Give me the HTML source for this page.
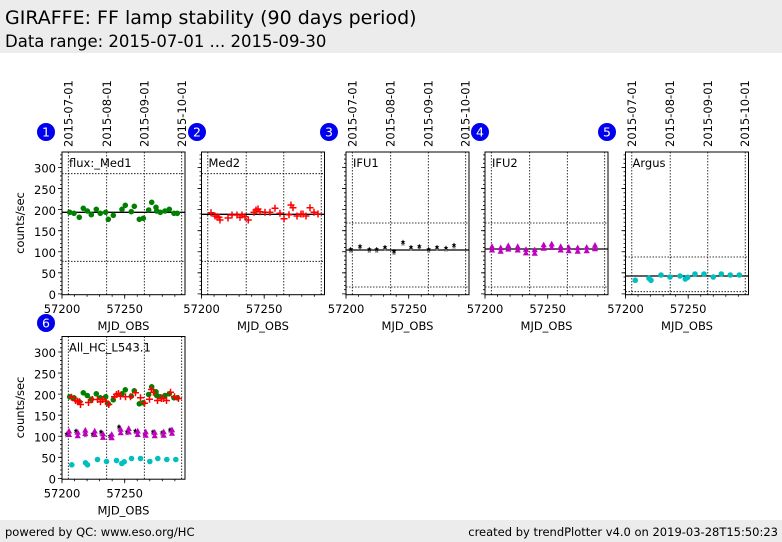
<!DOCTYPE html>
<html><head><meta charset="utf-8"><style>
body{margin:0;background:#fff;}
svg{display:block;font-family:"DejaVu Sans","Liberation Sans",sans-serif;}
</style></head><body>
<svg width="782" height="542" viewBox="0 0 782 542" xmlns="http://www.w3.org/2000/svg">
<defs>
<g id="frame">
<rect x="0" y="0" width="123" height="142.7" fill="none" stroke="#000" stroke-width="1"/>
<g stroke="#000" stroke-width="0.8" stroke-dasharray="1.5 1.5">
<line x1="6.3" y1="0" x2="6.3" y2="142.7"/><line x1="44.7" y1="0" x2="44.7" y2="142.7"/>
<line x1="82.3" y1="0" x2="82.3" y2="142.7"/><line x1="119.7" y1="0" x2="119.7" y2="142.7"/>
</g>
<line x1="-1" y1="142.3" x2="-1" y2="0" stroke="#000" stroke-width="2" stroke-dasharray="0.8 3.413"/>
<line x1="-2" y1="142.3" x2="-2" y2="0" stroke="#000" stroke-width="4" stroke-dasharray="0.8 20.265"/>
<line x1="-0.4" y1="143.7" x2="123" y2="143.7" stroke="#000" stroke-width="2" stroke-dasharray="0.8 11.74"/>
<line x1="-0.4" y1="144.7" x2="123" y2="144.7" stroke="#000" stroke-width="4" stroke-dasharray="0.8 61.9"/>
</g>
<path id="st" d="M0 -2.3L0.8 -0.6L2.4 -0.6L1.1 0.6L1.7 2.3L0 1.3L-1.7 2.3L-1.1 0.6L-2.4 -0.6L-0.8 -0.6Z"/>
<path id="tr" d="M0 -3.1L3.1 2.6L-3.1 2.6Z" fill="#bf00bf"/>
<g id="med1" fill="#008000">
<circle cx="69.7" cy="212.3" r="2.8"/><circle cx="74" cy="213.3" r="2.8"/><circle cx="79.3" cy="217.3" r="2.8"/><circle cx="83.3" cy="208.3" r="2.8"/><circle cx="87.3" cy="211" r="2.8"/><circle cx="91.3" cy="214.7" r="2.8"/><circle cx="96.3" cy="209.3" r="2.8"/><circle cx="100.3" cy="213.3" r="2.8"/><circle cx="105.7" cy="212.3" r="2.8"/><circle cx="108.3" cy="219.3" r="2.8"/><circle cx="113.3" cy="215.3" r="2.8"/><circle cx="122" cy="209.3" r="2.8"/><circle cx="125.3" cy="205.3" r="2.8"/><circle cx="131.3" cy="211.7" r="2.8"/><circle cx="134.3" cy="206.3" r="2.8"/><circle cx="139.3" cy="219.3" r="2.8"/><circle cx="143.3" cy="218.3" r="2.8"/><circle cx="148.7" cy="210" r="2.8"/><circle cx="151.7" cy="202.3" r="2.8"/><circle cx="156" cy="207.3" r="2.8"/><circle cx="156.7" cy="211" r="2.8"/><circle cx="160.3" cy="212.3" r="2.8"/><circle cx="165" cy="211" r="2.8"/><circle cx="169.3" cy="209.3" r="2.8"/><circle cx="174" cy="213.3" r="2.8"/><circle cx="177.3" cy="213.3" r="2.8"/>
</g>
<path id="med2" fill="none" stroke="#ff0000" stroke-width="1.5" d="M207.5 212.7h7M211 209.2v7 M211.5 216h7M215 212.5v7 M213.5 216.7h7M217 213.2v7 M215.5 217.3h7M219 213.8v7 M216.5 220h7M220 216.5v7 M224.5 218h7M228 214.5v7 M228.5 215h7M232 211.5v7 M233.5 215h7M237 211.5v7 M236.5 217.3h7M240 213.8v7 M238.5 215h7M242 211.5v7 M241.5 216.7h7M245 213.2v7 M244.8 220h7M248.3 216.5v7 M250.5 212.3h7M254 208.8v7 M252.5 210h7M256 206.5v7 M254.5 209h7M258 205.5v7 M256.5 211.7h7M260 208.2v7 M261.5 212.3h7M265 208.8v7 M266.5 212.3h7M270 208.8v7 M271.5 208.3h7M275 204.8v7 M276.5 213.3h7M280 209.8v7 M280.5 218.7h7M284 215.2v7 M285.5 214.7h7M289 211.2v7 M287.5 205h7M291 201.5v7 M289.5 207.7h7M293 204.2v7 M293.5 216h7M297 212.5v7 M297.5 214h7M301 210.5v7 M299.5 214h7M303 210.5v7 M302.5 216h7M306 212.5v7 M306.5 207.7h7M310 204.2v7 M310.5 212.3h7M314 208.8v7 M314.5 214h7M318 210.5v7"/>
<g id="ifu1">
<g fill="#777" transform="translate(0,-2.5)">
<use href="#st" x="350.7" y="253.5"/><use href="#st" x="360" y="250.5"/><use href="#st" x="369.3" y="253.5"/><use href="#st" x="376.7" y="253.5"/><use href="#st" x="385" y="251.4"/><use href="#st" x="394" y="255.6"/><use href="#st" x="403" y="246.3"/><use href="#st" x="411" y="251.4"/><use href="#st" x="419.3" y="250.5"/><use href="#st" x="428.7" y="253.5"/><use href="#st" x="437" y="251.4"/><use href="#st" x="446" y="252.2"/><use href="#st" x="454" y="249.3"/>
</g>
<g transform="translate(0,1.5)">
<use href="#st" x="350.7" y="247.5"/><use href="#st" x="360" y="244.5"/><use href="#st" x="369.3" y="247.5"/><use href="#st" x="376.7" y="247.5"/><use href="#st" x="385" y="245.4"/><use href="#st" x="394" y="249.6"/><use href="#st" x="403" y="240.3"/><use href="#st" x="411" y="245.4"/><use href="#st" x="419.3" y="244.5"/><use href="#st" x="428.7" y="247.5"/><use href="#st" x="437" y="245.4"/><use href="#st" x="446" y="246.2"/><use href="#st" x="454" y="243.3"/>
</g>
</g>
<g id="ifu2">
<g transform="translate(0,1)">
<use href="#tr" x="492" y="245.4"/><use href="#tr" x="500.7" y="246.6"/><use href="#tr" x="508.3" y="244.5"/><use href="#tr" x="517.7" y="245.4"/><use href="#tr" x="526" y="248.3"/><use href="#tr" x="534.7" y="248.7"/><use href="#tr" x="543.7" y="243.7"/><use href="#tr" x="551.7" y="242.9"/><use href="#tr" x="560.7" y="245.4"/><use href="#tr" x="568.7" y="246.2"/><use href="#tr" x="577.7" y="246.6"/><use href="#tr" x="586.7" y="246.2"/><use href="#tr" x="595" y="244.1"/>
</g>
<g transform="translate(0,-0.5)">
<use href="#tr" x="492" y="250.4"/><use href="#tr" x="500.7" y="251.6"/><use href="#tr" x="508.3" y="249.5"/><use href="#tr" x="517.7" y="250.4"/><use href="#tr" x="526" y="253.3"/><use href="#tr" x="534.7" y="253.7"/><use href="#tr" x="543.7" y="248.7"/><use href="#tr" x="551.7" y="247.9"/><use href="#tr" x="560.7" y="250.4"/><use href="#tr" x="568.7" y="251.2"/><use href="#tr" x="577.7" y="251.6"/><use href="#tr" x="586.7" y="251.2"/><use href="#tr" x="595" y="249.1"/>
</g>
</g>
<g id="argus" fill="#00bfbf">
<circle cx="635.3" cy="280.3" r="2.8"/><circle cx="649" cy="278.3" r="2.8"/><circle cx="651" cy="280.3" r="2.8"/><circle cx="661" cy="275" r="2.8"/><circle cx="670" cy="277" r="2.8"/><circle cx="680" cy="276" r="2.8"/><circle cx="685.3" cy="279" r="2.8"/><circle cx="687.7" cy="277.3" r="2.8"/><circle cx="695" cy="274" r="2.8"/><circle cx="704" cy="274" r="2.8"/><circle cx="713.3" cy="277" r="2.8"/><circle cx="721.3" cy="274" r="2.8"/><circle cx="730.3" cy="275" r="2.8"/><circle cx="739.3" cy="275" r="2.8"/>
</g>
</defs>
<rect x="0" y="0" width="782" height="542" fill="#fff"/>
<rect x="0" y="0" width="782" height="53" fill="#ececec"/>
<text x="5" y="24" font-size="19">GIRAFFE: FF lamp stability (90 days period)</text>
<text x="5" y="47" font-size="16.5">Data range: 2015-07-01 ... 2015-09-30</text>
<rect x="0" y="520" width="782" height="22" fill="#ececec"/>
<text x="5" y="536" font-size="11.5">powered by QC: www.eso.org/HC</text>
<text x="778" y="536" font-size="11.5" text-anchor="end">created by trendPlotter v4.0 on 2019-03-28T15:50:23</text>

<g font-size="11.5">
<text transform="translate(72.5,147) rotate(-90)">2015-07-01</text>
<text transform="translate(110.8,147) rotate(-90)">2015-08-01</text>
<text transform="translate(148.5,147) rotate(-90)">2015-09-01</text>
<text transform="translate(186,147) rotate(-90)">2015-10-01</text>
<text transform="translate(356.3,147) rotate(-90)">2015-07-01</text>
<text transform="translate(394.7,147) rotate(-90)">2015-08-01</text>
<text transform="translate(432.3,147) rotate(-90)">2015-09-01</text>
<text transform="translate(469.7,147) rotate(-90)">2015-10-01</text>
<text transform="translate(635.8,147) rotate(-90)">2015-07-01</text>
<text transform="translate(674.2,147) rotate(-90)">2015-08-01</text>
<text transform="translate(711.8,147) rotate(-90)">2015-09-01</text>
<text transform="translate(749.2,147) rotate(-90)">2015-10-01</text>
</g>

<g font-size="12.5" fill="#fff" text-anchor="middle">
<circle cx="46" cy="132" r="9" fill="#0000ee"/><text x="46" y="136.5">1</text>
<circle cx="197" cy="132" r="9" fill="#0000ee"/><text x="197" y="136.5">2</text>
<circle cx="329" cy="132" r="9" fill="#0000ee"/><text x="329" y="136.5">3</text>
<circle cx="480" cy="132" r="9" fill="#0000ee"/><text x="480" y="136.5">4</text>
<circle cx="607" cy="132" r="9" fill="#0000ee"/><text x="607" y="136.5">5</text>
<circle cx="46" cy="323" r="9" fill="#0000ee"/><text x="46" y="327.5">6</text>
</g>

<g font-size="11.5">
<g transform="translate(62,152)">
<g stroke="#000" stroke-width="0.8" stroke-dasharray="1.5 1.5"><line x1="0" y1="21.7" x2="123" y2="21.7"/><line x1="0" y1="109.3" x2="123" y2="109.3"/></g>
<line x1="0" y1="60.3" x2="123" y2="60.3" stroke="#000" stroke-width="1.3"/>
<use href="#frame"/>
<text x="7" y="15">flux:_Med1</text>
<g text-anchor="end"><text x="-6" y="147">0</text><text x="-6" y="126">50</text><text x="-6" y="105">100</text><text x="-6" y="84">150</text><text x="-6" y="63">200</text><text x="-6" y="42">250</text><text x="-6" y="20.6">300</text></g>
<g text-anchor="middle"><text x="0" y="161">57200</text><text x="62.7" y="161">57250</text><text x="61.5" y="178">MJD_OBS</text></g>
<text transform="translate(-38,71) rotate(-90)" text-anchor="middle">counts/sec</text>
</g>
<g transform="translate(201.5,152)">
<g stroke="#000" stroke-width="0.8" stroke-dasharray="1.5 1.5"><line x1="0" y1="21.7" x2="123" y2="21.7"/><line x1="0" y1="109.3" x2="123" y2="109.3"/></g>
<line x1="0" y1="62.3" x2="123" y2="62.3" stroke="#000" stroke-width="1.3"/>
<use href="#frame"/>
<text x="7" y="15">Med2</text>
<g text-anchor="middle"><text x="0" y="161">57200</text><text x="62.7" y="161">57250</text><text x="61.5" y="178">MJD_OBS</text></g>
</g>
<g transform="translate(346,152)">
<g stroke="#000" stroke-width="0.8" stroke-dasharray="1.5 1.5"><line x1="0" y1="71" x2="123" y2="71"/><line x1="0" y1="135" x2="123" y2="135"/></g>
<line x1="0" y1="98" x2="123" y2="98" stroke="#000" stroke-width="1.3"/>
<use href="#frame"/>
<text x="7" y="15">IFU1</text>
<g text-anchor="middle"><text x="0" y="161">57200</text><text x="62.7" y="161">57250</text><text x="61.5" y="178">MJD_OBS</text></g>
</g>
<g transform="translate(485,152)">
<g stroke="#000" stroke-width="0.8" stroke-dasharray="1.5 1.5"><line x1="0" y1="71" x2="123" y2="71"/><line x1="0" y1="135" x2="123" y2="135"/></g>
<line x1="0" y1="97" x2="123" y2="97" stroke="#000" stroke-width="1.3"/>
<use href="#frame"/>
<text x="7" y="15">IFU2</text>
<g text-anchor="middle"><text x="0" y="161">57200</text><text x="62.7" y="161">57250</text><text x="61.5" y="178">MJD_OBS</text></g>
</g>
<g transform="translate(625.5,152)">
<g stroke="#000" stroke-width="0.8" stroke-dasharray="1.5 1.5"><line x1="0" y1="105" x2="123" y2="105"/><line x1="0" y1="139.7" x2="123" y2="139.7"/></g>
<line x1="0" y1="124" x2="123" y2="124" stroke="#000" stroke-width="1.3"/>
<use href="#frame"/>
<text x="7" y="15">Argus</text>
<g text-anchor="middle"><text x="0" y="161">57200</text><text x="62.7" y="161">57250</text><text x="61.5" y="178">MJD_OBS</text></g>
</g>
<g transform="translate(62,336.5)">
<use href="#frame"/>
<text x="7" y="15">All_HC_L543.1</text>
<g text-anchor="end"><text x="-6" y="147">0</text><text x="-6" y="126">50</text><text x="-6" y="105">100</text><text x="-6" y="84">150</text><text x="-6" y="63">200</text><text x="-6" y="42">250</text><text x="-6" y="20.6">300</text></g>
<g text-anchor="middle"><text x="0" y="161">57200</text><text x="62.7" y="161">57250</text><text x="61.5" y="178">MJD_OBS</text></g>
<text transform="translate(-38,71) rotate(-90)" text-anchor="middle">counts/sec</text>
</g>
</g>

<use href="#med1"/>
<use href="#med2"/>
<use href="#ifu1"/>
<use href="#ifu2"/>
<use href="#argus"/>
<use href="#med1" transform="translate(0,184.5)"/>
<use href="#med2" transform="translate(-139.5,184.5)"/>
<use href="#ifu1" transform="translate(-284,184.5)"/>
<use href="#ifu2" transform="translate(-423,184.5)"/>
<use href="#argus" transform="translate(-563.5,184.5)"/>
</svg>
</body></html>
